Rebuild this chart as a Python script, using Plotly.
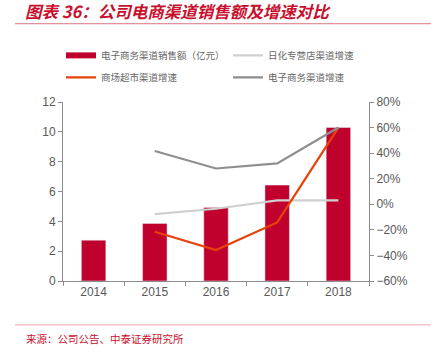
import plotly.graph_objects as go

years = ["2014", "2015", "2016", "2017", "2018"]
sales = [2.74, 3.86, 4.93, 6.43, 10.29]
daily_growth = [None, -0.077, -0.035, 0.031, 0.030]
mall_growth = [None, -0.215, -0.358, -0.142, 0.600]
ecom_growth = [None, 0.417, 0.280, 0.320, 0.600]

names = ["电子商务渠道销售额（亿元）", "日化专营店渠道增速", "商场超市渠道增速", "电子商务渠道增速"]

RED = "#C0002D"
ORANGE = "#E8410A"
LGRAY = "#CFCFCF"
DGRAY = "#8E8E8E"
TICK = "#595959"
CJK = "Noto Sans CJK SC"
LAT = "Liberation Sans, Arial"

W, H = 435, 355
L, R, T, B = 63, 369, 101.7, 281.0
PW, PH = R - L, B - T

def px(x):
    return (x - L) / PW

def py(y):
    return (B - y) / PH

fig = go.Figure()
fig.add_trace(go.Bar(x=years, y=sales, marker_color=RED, width=0.4,
                     showlegend=False, name=names[0]))
# legend entry for bars
fig.add_trace(go.Scatter(x=[None], y=[None], mode="lines", name=names[0],
                         line=dict(color=RED, width=6), legend="legend"))
fig.add_trace(go.Scatter(x=years, y=daily_growth, mode="lines", name=names[1],
                         line=dict(color=LGRAY, width=2.2), yaxis="y2", legend="legend2"))
fig.add_trace(go.Scatter(x=years, y=mall_growth, mode="lines", name=names[2],
                         line=dict(color=ORANGE, width=2.2), yaxis="y2", legend="legend3"))
fig.add_trace(go.Scatter(x=years, y=ecom_growth, mode="lines", name=names[3],
                         line=dict(color=DGRAY, width=2.2), yaxis="y2", legend="legend4"))

legend_common = dict(orientation="h", xanchor="left", yanchor="middle",
                     font=dict(family=CJK, size=9.5, color="#666666"),
                     itemwidth=30, bgcolor="rgba(0,0,0,0)")

fig.update_layout(
    width=W, height=H,
    margin=dict(l=L, r=W - R, t=T, b=H - B, pad=0),
    plot_bgcolor="white", paper_bgcolor="white",
    title=dict(text="<b><i>图表 36：公司电商渠道销售额及增速对比</i></b>",
               font=dict(family=CJK, size=16.5, color="#C8102E"),
               xref="container", yref="container",
               x=25 / W, y=1 - 12 / H, xanchor="left", yanchor="middle"),
    xaxis=dict(type="category", showline=True, linecolor="#8C8C8C", linewidth=1,
               ticks="outside", tickson="boundaries", ticklen=4, tickcolor="#8C8C8C",
               tickfont=dict(family=LAT, size=12, color=TICK), showgrid=False,
               zeroline=False),
    yaxis=dict(range=[0, 12], dtick=2, showline=True, linecolor="#8C8C8C", linewidth=1,
               ticks="outside", ticklen=4, tickcolor="#8C8C8C", showgrid=False,
               zeroline=False, tickfont=dict(family=LAT, size=12, color=TICK)),
    yaxis2=dict(range=[-0.6, 0.8], dtick=0.2, tickformat=".0%", overlaying="y",
                side="right", showline=True, linecolor="#8C8C8C", linewidth=1,
                ticks="outside", ticklen=4, tickcolor="#8C8C8C", showgrid=False,
                zeroline=False, tickfont=dict(family=LAT, size=12, color=TICK)),
    legend=dict(x=px(61), y=py(55), **legend_common),
    legend2=dict(x=px(228), y=py(55), **legend_common),
    legend3=dict(x=px(61), y=py(77), **legend_common),
    legend4=dict(x=px(228), y=py(77), **legend_common),
    shapes=[
        dict(type="line", xref="paper", yref="paper", x0=px(15), x1=px(431),
             y0=py(23.3), y1=py(23.3), line=dict(color="#D9787F", width=1)),
        dict(type="line", xref="paper", yref="paper", x0=px(15), x1=px(431),
             y0=py(325), y1=py(325), line=dict(color="#EBA9AE", width=1)),
    ],
    annotations=[
        dict(text="来源：公司公告、中泰证券研究所", xref="paper", yref="paper",
             x=px(24), y=py(339), xanchor="left", yanchor="middle", showarrow=False,
             font=dict(family=CJK, size=10.5, color="#C8102E")),
    ],
)

fig.write_html("out.html", config={"displayModeBar": False},
               post_script="document.body.style.margin='0px';")
